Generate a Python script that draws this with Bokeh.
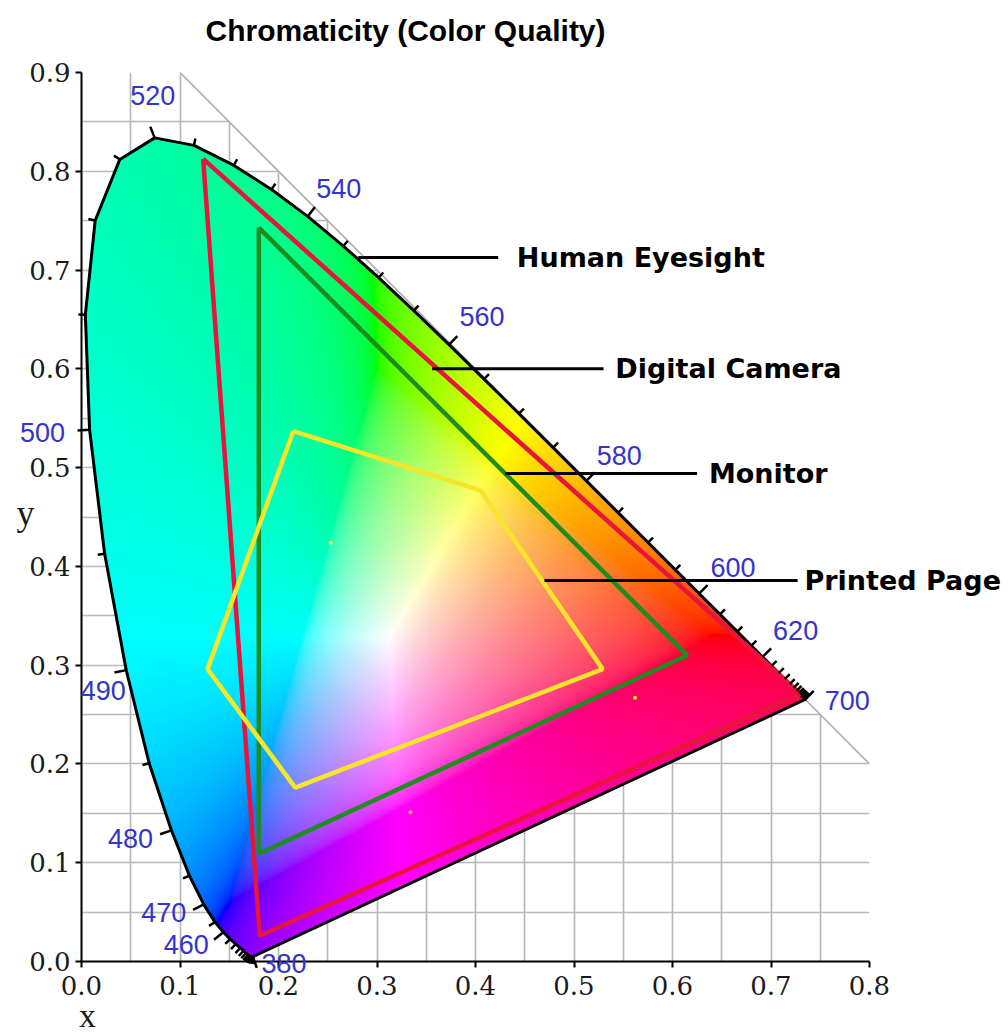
import numpy as np
from bokeh.plotting import figure
from bokeh.models import Range1d, FixedTicker, PrintfTickFormatter, ColumnDataSource
from bokeh.core.properties import value
from bokeh.embed import file_html
from bokeh.resources import INLINE

# ---------------- data ----------------
wavelengths = [380, 385, 390, 395, 400, 405, 410, 415, 420, 425, 430, 435, 440, 445,
               450, 455, 460, 465, 470, 475, 480, 485, 490, 495, 500, 505, 510, 515,
               520, 525, 530, 535, 540, 545, 550, 555, 560, 565, 570, 575, 580, 585,
               590, 595, 600, 605, 610, 615, 620, 625, 630, 635, 640, 645, 650, 655,
               660, 665, 670, 675, 680, 685, 690, 695, 700]
locus_x = [0.1741, 0.1740, 0.1738, 0.1736, 0.1733, 0.1730, 0.1726, 0.1721, 0.1714, 0.1703,
           0.1689, 0.1669, 0.1644, 0.1611, 0.1566, 0.1510, 0.1440, 0.1355, 0.1241, 0.1096,
           0.0913, 0.0687, 0.0454, 0.0235, 0.0082, 0.0039, 0.0139, 0.0389, 0.0743, 0.1142,
           0.1547, 0.1929, 0.2296, 0.2658, 0.3016, 0.3373, 0.3731, 0.4087, 0.4441, 0.4788,
           0.5125, 0.5448, 0.5752, 0.6029, 0.6270, 0.6482, 0.6658, 0.6801, 0.6915, 0.7006,
           0.7079, 0.7140, 0.7190, 0.7230, 0.7260, 0.7283, 0.7300, 0.7311, 0.7320, 0.7327,
           0.7334, 0.7340, 0.7344, 0.7346, 0.7347]
locus_y = [0.0050, 0.0050, 0.0049, 0.0049, 0.0048, 0.0048, 0.0048, 0.0048, 0.0051, 0.0058,
           0.0069, 0.0086, 0.0109, 0.0138, 0.0177, 0.0227, 0.0297, 0.0399, 0.0578, 0.0868,
           0.1327, 0.2007, 0.2950, 0.4127, 0.5384, 0.6548, 0.7502, 0.8120, 0.8338, 0.8262,
           0.8059, 0.7816, 0.7543, 0.7243, 0.6923, 0.6589, 0.6245, 0.5896, 0.5547, 0.5202,
           0.4866, 0.4544, 0.4242, 0.3965, 0.3725, 0.3514, 0.3340, 0.3197, 0.3083, 0.2993,
           0.2920, 0.2859, 0.2809, 0.2770, 0.2740, 0.2717, 0.2700, 0.2689, 0.2680, 0.2673,
           0.2666, 0.2660, 0.2656, 0.2654, 0.2653]
labeled_wavelengths = [380, 460, 470, 480, 490, 500, 520, 540, 560, 580, 600, 620, 700]

human_x = [0.1235, 0.730, 0.181]
human_y = [0.8125, 0.271, 0.026]
camera_x = [0.180, 0.615, 0.180]
camera_y = [0.743, 0.310, 0.109]
monitor_x = [0.215, 0.405, 0.529, 0.217, 0.128]
monitor_y = [0.537, 0.477, 0.296, 0.176, 0.296]

dots_x = [0.253, 0.562, 0.334]
dots_y = [0.424, 0.267, 0.151]

note_texts = ["Human Eyesight", "Digital Camera", "Monitor", "Printed Page"]
note_y = [0.7126, 0.600, 0.494, 0.3856]
note_x0 = [0.281, 0.356, 0.430, 0.470]
note_x1 = [0.423, 0.530, 0.625, 0.727]
note_text_x = [0.442, 0.542, 0.637, 0.734]

x_ticks = [0.0, 0.1, 0.2, 0.3, 0.4, 0.5, 0.6, 0.7, 0.8]
y_ticks = [0.0, 0.1, 0.2, 0.3, 0.4, 0.5, 0.6, 0.7, 0.8, 0.9]
grid_step = 0.05

title_text = "Chromaticity (Color Quality)"
x_label, y_label = "x", "y"

# layout: label offsets in screen px (right, down) from the locus point
label_offsets_px = {380: (31, 7), 460: (-37, 12), 470: (-40, 8), 480: (-41, 8),
                    490: (-23, 20), 500: (-47, 3), 520: (-2, -42), 540: (31, -28),
                    560: (33, -28), 580: (33, -25), 600: (34, -26), 620: (33, -26),
                    700: (42, 1)}

# ---------------- figure ----------------
W, H = 1008, 1033
FL, FR, FT, FB = 81, 139, 72, 72
p = figure(width=W, height=H, output_backend="svg", toolbar_location=None,
           x_range=Range1d(0, 0.8), y_range=Range1d(0, 0.9),
           min_border_left=FL, min_border_right=FR, min_border_top=FT, min_border_bottom=FB)
p.outline_line_color = None
px_per_x = (W - FL - FR) / 0.8
px_per_y = (H - FT - FB) / 0.9

# grid every 0.05
gx = list(np.round(np.arange(0, 0.8 + 1e-9, grid_step), 3))
gy = list(np.round(np.arange(0, 0.9 + 1e-9, grid_step), 3))
p.xgrid.ticker = FixedTicker(ticks=gx)
p.ygrid.ticker = FixedTicker(ticks=gy)
for g in (p.xgrid, p.ygrid):
    g.grid_line_color = "#b8b8b8"
    g.grid_line_width = 1.7

# mask region x + y > 1 and draw the x + y = 1 boundary
p.patch([0.0, 0.9, 0.9], [1.0, 1.0, 0.1], color="white", line_color=None)
p.line([1 - 0.9, 0.8], [0.9, 1 - 0.8], line_color="#b0b0b0", line_width=1.7)

# ---------------- chromaticity colour image ----------------
nx, ny = 500, 563
xs = (np.arange(nx) + 0.5) / nx * 0.8
ys = (np.arange(ny) + 0.5) / ny * 0.9
X, Y = np.meshgrid(xs, ys)
lx = np.array(locus_x); ly = np.array(locus_y)
inside = np.zeros(X.shape, dtype=bool)
n = len(lx)
j = n - 1
for i in range(n):
    xi, yi, xj, yj = lx[i], ly[i], lx[j], ly[j]
    cond = (yi > Y) != (yj > Y)
    denom = (yj - yi) if (yj - yi) != 0 else 1e-12
    xint = (xj - xi) * (Y - yi) / denom + xi
    inside ^= cond & (X < xint)
    j = i
Yv = np.maximum(Y, 1e-6)
Xc = X / Yv
Zc = (1 - X - Y) / Yv
R = 3.2406 * Xc - 1.5372 - 0.4986 * Zc
G = -0.9689 * Xc + 1.8758 + 0.0415 * Zc
B = 0.0557 * Xc - 0.2040 + 1.0570 * Zc
m = np.minimum(np.minimum(np.minimum(R, G), B), 0)
R, G, B = R - m, G - m, B - m
mx = np.maximum(np.maximum(np.maximum(R, G), B), 1e-9)
R, G, B = R / mx, G / mx, B / mx
def gamma(c):
    c = np.clip(c, 0, 1)
    return np.where(c <= 0.0031308, 12.92 * c, 1.055 * np.power(c, 1 / 2.4) - 0.055)
img = np.zeros((ny, nx), dtype=np.uint32)
view = img.view(dtype=np.uint8).reshape((ny, nx, 4))
view[:, :, 0] = (gamma(R) * 255).astype(np.uint8)
view[:, :, 1] = (gamma(G) * 255).astype(np.uint8)
view[:, :, 2] = (gamma(B) * 255).astype(np.uint8)
view[:, :, 3] = np.where(inside, 255, 0).astype(np.uint8)
p.image_rgba(image=[img], x=0, y=0, dw=0.8, dh=0.9)

# ---------------- spectral locus outline ----------------
p.line(locus_x + [locus_x[0]], locus_y + [locus_y[0]], line_color="black", line_width=3,
       line_join="round")

# ticks along the locus every 5 nm, pointing outward
sx = lx * px_per_x; sy = ly * px_per_y
tx0, ty0, tx1, ty1 = [], [], [], []
for k, wl in enumerate(wavelengths):
    a = max(k - 2, 0); b = min(k + 2, n - 1)
    dx = sx[b] - sx[a]; dy = sy[b] - sy[a]
    L = np.hypot(dx, dy)
    nxn, nyn = -dy / L, dx / L
    length = 12 if wl in labeled_wavelengths else 7
    tx0.append(lx[k]); ty0.append(ly[k])
    tx1.append(lx[k] + nxn * length / px_per_x)
    ty1.append(ly[k] + nyn * length / px_per_y)
p.segment(tx0, ty0, tx1, ty1, line_color="black", line_width=2.5, level="overlay")

# ---------------- gamut outlines ----------------
p.line(human_x + [human_x[0]], human_y + [human_y[0]], line_color="#e8143c", line_width=4.5)
p.line(camera_x + [camera_x[0]], camera_y + [camera_y[0]], line_color="#1e8c1e", line_width=4.5)
p.line(monitor_x + [monitor_x[0]], monitor_y + [monitor_y[0]], line_color="#f7e52a", line_width=4.5)
p.scatter(dots_x, dots_y, size=4, color=["#f5e62a", "#f5e62a", "#f7a070"], line_color=None)

# ---------------- annotation lines and texts ----------------
p.segment(note_x0, note_y, note_x1, note_y, line_color="black", line_width=3)
p.text(x=note_text_x, y=note_y, text=note_texts, text_font=value("DejaVu Sans"),
       text_font_style="bold", text_font_size=value("27px"), text_baseline="middle",
       text_align="left", text_color="black", level="overlay")

# wavelength labels
lab_x, lab_y, lab_t = [], [], []
for wl in labeled_wavelengths:
    k = wavelengths.index(wl)
    ox, oy = label_offsets_px[wl]
    lab_x.append(lx[k] + ox / px_per_x)
    lab_y.append(ly[k] - oy / px_per_y)
    lab_t.append(str(wl))
src = ColumnDataSource(dict(x=lab_x, y=lab_y, text=lab_t))
p.text(x="x", y="y", text="text", source=src, text_font=value("Liberation Sans"),
       text_font_size=value("27px"), text_color="#3434cc", text_align="center",
       text_baseline="middle", level="overlay")

# ---------------- axes ----------------
p.xaxis.ticker = FixedTicker(ticks=x_ticks)
p.yaxis.ticker = FixedTicker(ticks=y_ticks)
for ax in (p.xaxis, p.yaxis):
    ax.formatter = PrintfTickFormatter(format="%.1f")
    ax.major_label_text_font = "DejaVu Serif"
    ax.major_label_text_font_size = "26px"
    ax.major_label_text_color = "#1a1a1a"
    ax.axis_line_width = 2
    ax.axis_line_color = "black"
    ax.major_tick_line_width = 2
    ax.major_tick_out = 6
    ax.major_tick_in = 0
    ax.minor_tick_out = 0
    ax.minor_tick_in = 0
p.xaxis.major_label_standoff = 8
p.yaxis.major_label_standoff = 5

# axis titles and chart title as text (placed outside the frame)
p.text(x=[0.006], y=[-0.0547], text=[x_label], text_font=value("Liberation Serif"),
       text_font_size=value("34px"), text_align="center", text_baseline="middle",
       text_color="#1a1a1a", level="overlay")
p.text(x=[-0.0569], y=[0.4545], text=[y_label], text_font=value("Liberation Serif"),
       text_font_size=value("36px"), text_align="center", text_baseline="middle",
       text_color="#1a1a1a", level="overlay")
p.text(x=[0.1259], y=[0.9423], text=[title_text], text_font=value("Liberation Sans"),
       text_font_style="bold", text_font_size=value("30px"), text_align="left",
       text_baseline="middle", text_color="black", level="overlay")

open("out.html", "w").write(file_html(p, INLINE))
